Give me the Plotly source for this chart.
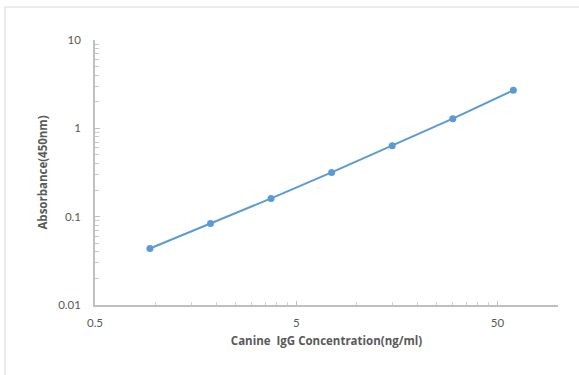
import math
import plotly.graph_objects as go

concentration = [0.9375, 1.875, 3.75, 7.5, 15, 30, 60]
absorbance = [0.0436, 0.0837, 0.161, 0.317, 0.635, 1.285, 2.70]

x_ticks = [0.5, 5, 50]
x_tick_text = ["0.5", "5", "50"]
y_ticks = [0.01, 0.1, 1, 10]
y_tick_text = ["0.01", "0.1", "1", "10"]
x_minor = [0.5 * k * 10 ** d for d in range(0, 3) for k in range(2, 10) if 0.5 * k * 10 ** d < 100]
y_minor = [k * 10 ** d for d in range(-2, 1) for k in range(2, 10)]

fig = go.Figure()
fig.add_trace(go.Scatter(
    x=concentration, y=absorbance, mode="lines+markers",
    line=dict(color="#5b9bd5", width=2),
    marker=dict(color="#5b9bd5", size=7),
    showlegend=False,
))

W, H = 579, 375
L, R, T, B = 95, 21, 40, 70
pw, ph = W - L - R, H - T - B

axis_font = dict(family="Lato, Carlito, Liberation Sans, sans-serif", size=11.5, color="#595959")
title_font = dict(family="Open Sans, sans-serif", size=11.5, color="#595959")
fig.update_layout(
    width=W, height=H,
    margin=dict(l=L, r=R, t=T, b=B, pad=0),
    paper_bgcolor="white", plot_bgcolor="white",
    font=axis_font,
    xaxis=dict(
        type="log", range=[math.log10(0.5), 2],
        tickvals=x_ticks, ticktext=x_tick_text,
        showgrid=False, zeroline=False,
        showline=True, linecolor="#bfbfbf", linewidth=2,
        ticks="inside", ticklen=4, tickcolor="#bfbfbf",
        minor=dict(tickvals=x_minor, ticks="inside", ticklen=3, tickcolor="#d0d0d0", showgrid=False),
        ticklabelstandoff=6,
        title=dict(text="<b>Canine  IgG Concentration(ng/ml)</b>", font=title_font, standoff=9),
    ),
    yaxis=dict(
        type="log", range=[-2, 1],
        tickvals=y_ticks, ticktext=y_tick_text,
        showgrid=False, zeroline=False,
        showline=True, linecolor="#bfbfbf", linewidth=1.5,
        ticks="inside", ticklen=5, tickcolor="#bfbfbf",
        minor=dict(tickvals=y_minor, ticks="inside", ticklen=4, tickcolor="#c8c8c8", showgrid=False),
        ticklabelstandoff=10,
        title=dict(text="<b>Absorbance(450nm)</b>", font=title_font, standoff=8),
    ),
    shapes=[dict(
        type="rect", xref="paper", yref="paper",
        x0=(5 - L) / pw, x1=(W + 20 - L) / pw,
        y0=(H - B - (H + 20)) / ph, y1=(H - B - 7) / ph,
        line=dict(color="#d9d9d9", width=1), layer="below",
    )],
)

fig.write_html(
    "out.html",
    config={"displayModeBar": False},
    post_script="document.body.style.margin='0';document.body.style.overflow='hidden';",
)
